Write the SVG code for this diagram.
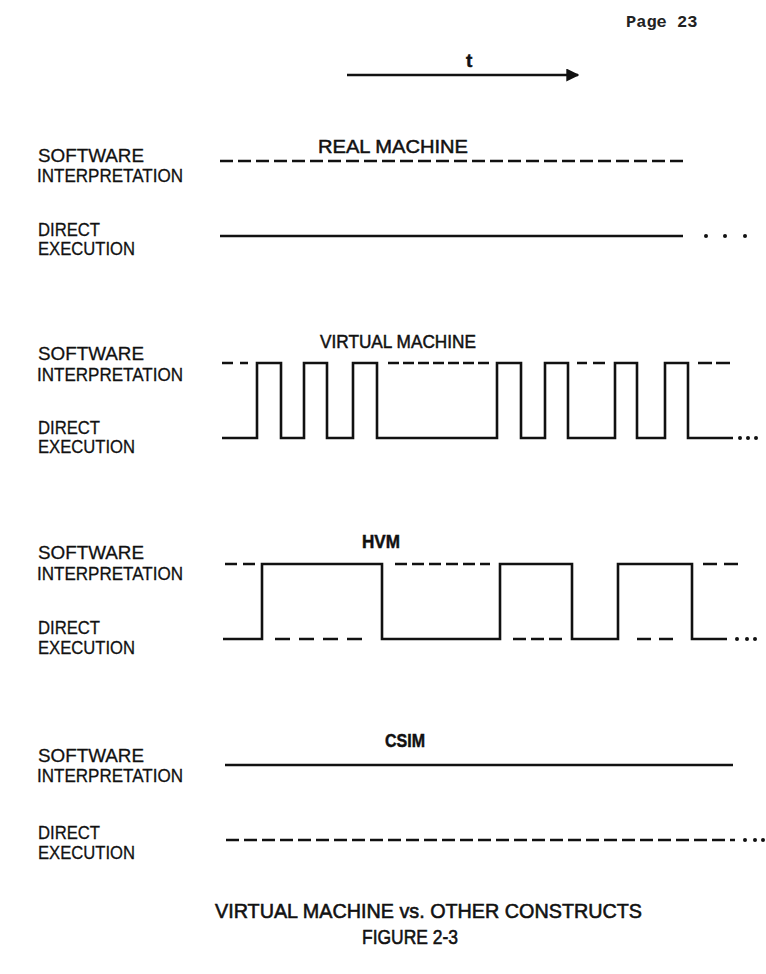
<svg xmlns="http://www.w3.org/2000/svg" width="766" height="974" viewBox="0 0 766 974">
<style>
.lbl{font-family:"Liberation Sans",Arial,sans-serif;font-size:19px;fill:#111;stroke:#111;stroke-width:0.3}
.ttl{font-family:"Liberation Sans",Arial,sans-serif;font-size:19px;fill:#111;stroke:#111;stroke-width:0.5}
.cap{font-family:"Liberation Sans",Arial,sans-serif;font-size:21px;fill:#111;stroke:#111;stroke-width:0.6}
.w{fill:none;stroke:#111;stroke-width:2.6;stroke-linejoin:miter;stroke-linecap:butt}
.d{fill:none;stroke:#111;stroke-width:2.6;stroke-dasharray:13 5}
.dot{fill:#111}
</style>
<defs>
<marker id="ah" viewBox="0 0 10 10" refX="9" refY="5" markerWidth="5" markerHeight="5" orient="auto"><path d="M0,0 L10,5 L0,10 z" fill="#111"/></marker>
</defs>
<rect width="766" height="974" fill="#fff"/>
<text x="626" y="27" style="font-family:'Liberation Mono','Courier New',monospace;font-size:17px;font-weight:bold;fill:#222">Page 23</text>

<g id="time-axis">
<line x1="347" y1="75" x2="578" y2="75" class="w" marker-end="url(#ah)"/>
<text x="466" y="67" class="ttl" font-weight="bold">t</text>
</g>

<g id="real-machine">
<text x="318" y="153" class="ttl" textLength="150" lengthAdjust="spacingAndGlyphs">REAL MACHINE</text>
<text x="38" y="162" class="lbl" textLength="106" lengthAdjust="spacingAndGlyphs">SOFTWARE</text>
<text x="37" y="182" class="lbl" textLength="146" lengthAdjust="spacingAndGlyphs">INTERPRETATION</text>
<text x="38" y="236" class="lbl" textLength="62" lengthAdjust="spacingAndGlyphs">DIRECT</text>
<text x="38" y="255" class="lbl" textLength="97" lengthAdjust="spacingAndGlyphs">EXECUTION</text>
<line x1="220" y1="161" x2="686" y2="161" class="d"/>
<line x1="220" y1="236" x2="683" y2="236" class="w"/>
<circle cx="706" cy="236" r="2" class="dot"/><circle cx="725" cy="236" r="2" class="dot"/><circle cx="745" cy="236" r="2" class="dot"/>
</g>

<g id="virtual-machine">
<text x="320" y="348" class="ttl" textLength="156" lengthAdjust="spacingAndGlyphs">VIRTUAL MACHINE</text>
<text x="38" y="360" class="lbl" textLength="106" lengthAdjust="spacingAndGlyphs">SOFTWARE</text>
<text x="37" y="381" class="lbl" textLength="146" lengthAdjust="spacingAndGlyphs">INTERPRETATION</text>
<text x="38" y="434" class="lbl" textLength="62" lengthAdjust="spacingAndGlyphs">DIRECT</text>
<text x="38" y="453" class="lbl" textLength="97" lengthAdjust="spacingAndGlyphs">EXECUTION</text>
<path class="w" d="M222,438 H257 V363 H281 V438 H304 V363 H327 V438 H353 V363 H377 V438 H497 V363 H521 V438 H545 V363 H568 V438 H615 V363 H637 V438 H665 V363 H688 V438 H733"/>
<path class="w" d="M222,363 H233 M240,363 H248 M577,363 H587 M593,363 H605 M698,363 H712 M716,363 H730"/>
<line x1="388" y1="363" x2="492" y2="363" class="w" stroke-dasharray="11 4"/>
<circle cx="740" cy="438" r="2" class="dot"/><circle cx="748" cy="438" r="2" class="dot"/><circle cx="756" cy="438" r="2" class="dot"/>
</g>

<g id="hvm">
<text x="362" y="548" class="ttl" font-weight="bold" textLength="38" lengthAdjust="spacingAndGlyphs">HVM</text>
<text x="38" y="559" class="lbl" textLength="106" lengthAdjust="spacingAndGlyphs">SOFTWARE</text>
<text x="37" y="580" class="lbl" textLength="146" lengthAdjust="spacingAndGlyphs">INTERPRETATION</text>
<text x="38" y="634" class="lbl" textLength="62" lengthAdjust="spacingAndGlyphs">DIRECT</text>
<text x="38" y="654" class="lbl" textLength="97" lengthAdjust="spacingAndGlyphs">EXECUTION</text>
<path class="w" d="M223,639 H262 V564 H382 V639 H500 V564 H572 V639 H618 V564 H692 V639 H727"/>
<path class="w" d="M225,564 H237 M243,564 H255 M703,564 H717 M724,564 H738"/>
<line x1="395" y1="564" x2="490" y2="564" class="w" stroke-dasharray="12 5"/>
<line x1="275" y1="639" x2="368" y2="639" class="w" stroke-dasharray="15 9"/>
<line x1="513" y1="639" x2="562" y2="639" class="w" stroke-dasharray="13 5"/>
<line x1="637" y1="639" x2="673" y2="639" class="w" stroke-dasharray="14 8"/>
<circle cx="737" cy="639" r="2" class="dot"/><circle cx="747" cy="639" r="2" class="dot"/><circle cx="755" cy="639" r="2" class="dot"/>
</g>

<g id="csim">
<text x="385" y="747" class="ttl" font-weight="bold" textLength="40" lengthAdjust="spacingAndGlyphs">CSIM</text>
<text x="38" y="762" class="lbl" textLength="106" lengthAdjust="spacingAndGlyphs">SOFTWARE</text>
<text x="37" y="782" class="lbl" textLength="146" lengthAdjust="spacingAndGlyphs">INTERPRETATION</text>
<text x="38" y="839" class="lbl" textLength="62" lengthAdjust="spacingAndGlyphs">DIRECT</text>
<text x="38" y="859" class="lbl" textLength="97" lengthAdjust="spacingAndGlyphs">EXECUTION</text>
<line x1="225" y1="765" x2="733" y2="765" class="w"/>
<line x1="226" y1="840" x2="735" y2="840" class="d"/>
<circle cx="745" cy="840" r="2" class="dot"/><circle cx="755" cy="840" r="2" class="dot"/><circle cx="763" cy="840" r="2" class="dot"/>
</g>

<g id="caption">
<text x="215" y="918" class="cap" textLength="427" lengthAdjust="spacingAndGlyphs">VIRTUAL MACHINE vs. OTHER CONSTRUCTS</text>
<text x="362" y="944" class="cap" textLength="96" lengthAdjust="spacingAndGlyphs">FIGURE 2-3</text>
</g>
</svg>
